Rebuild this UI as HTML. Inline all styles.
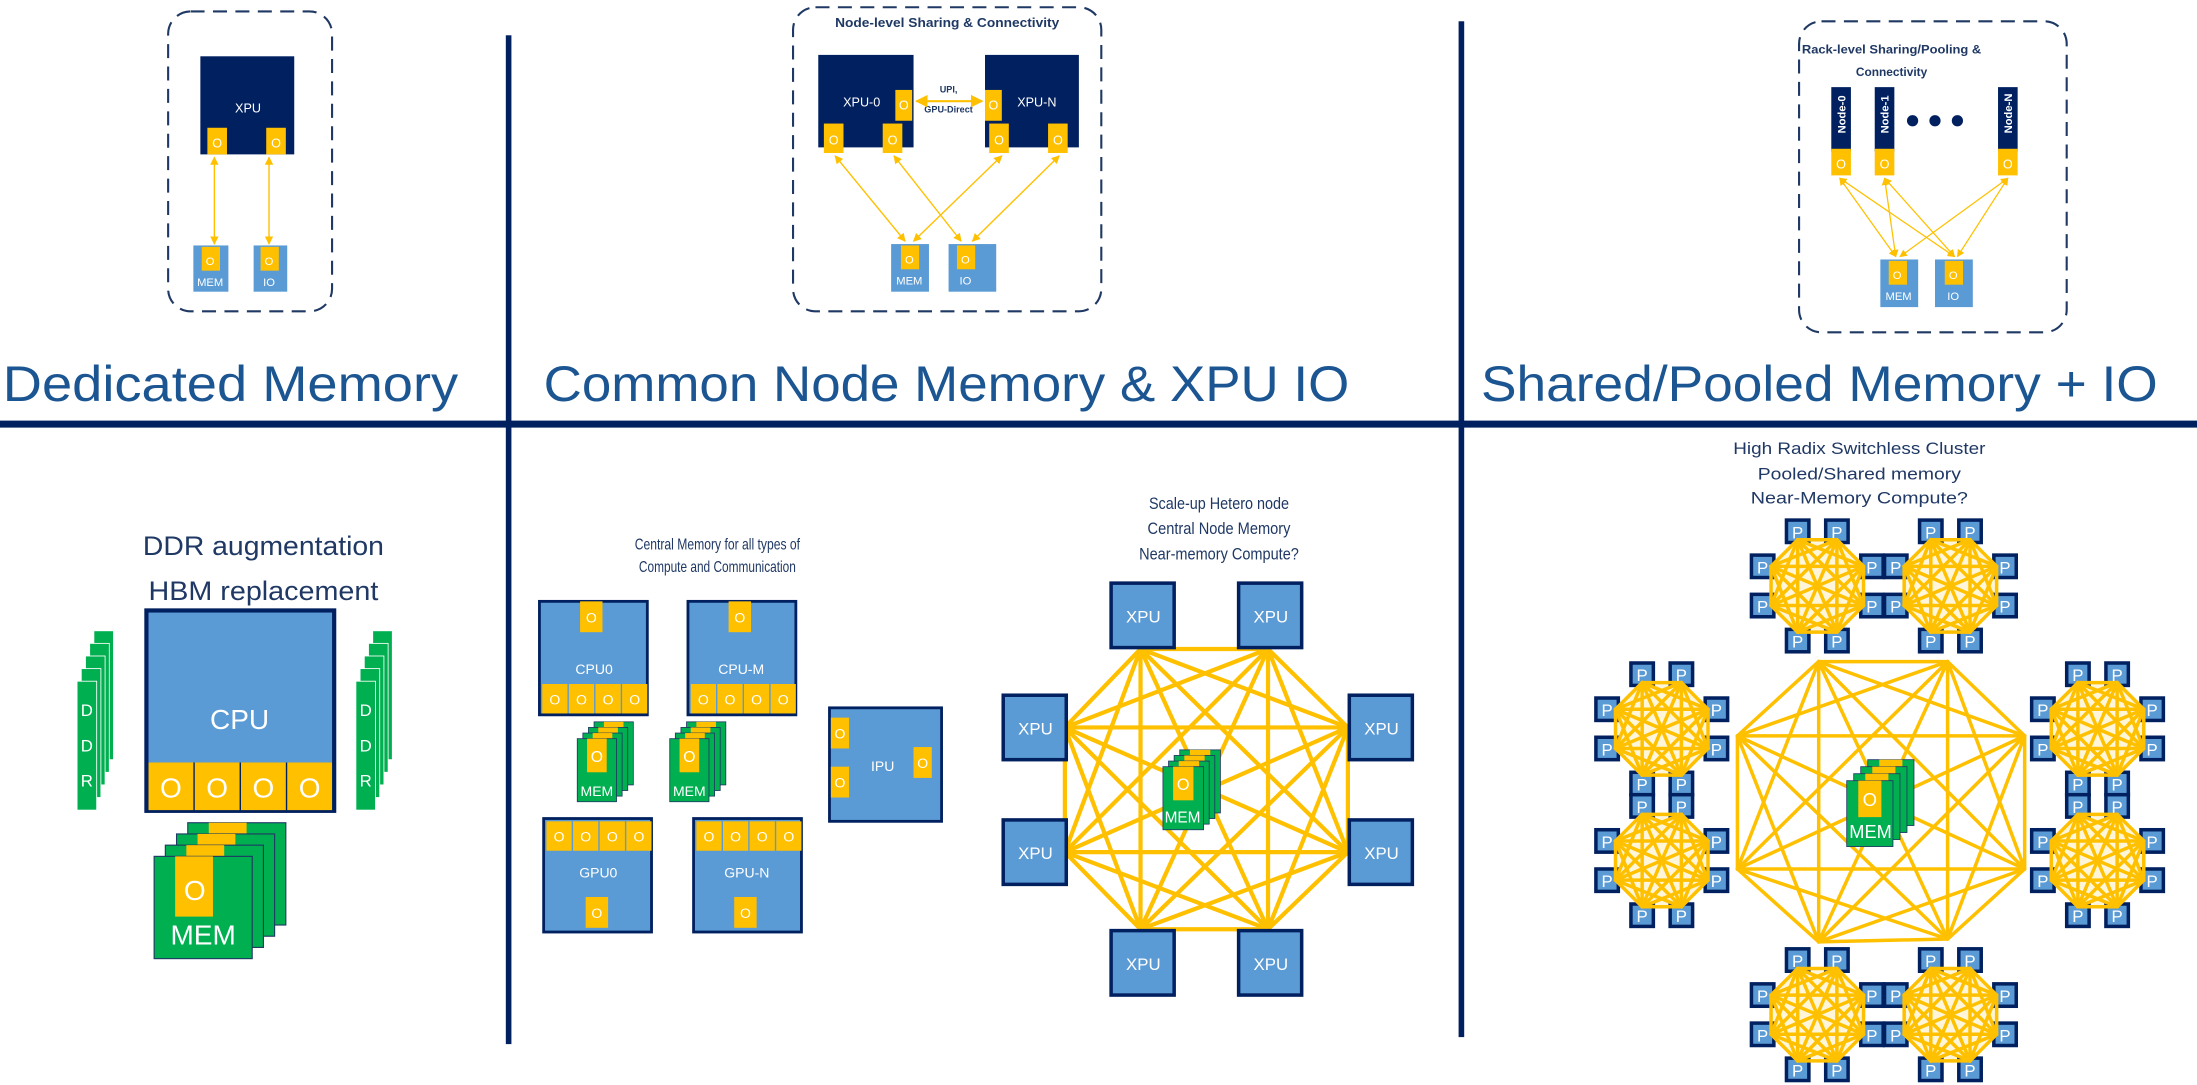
<!DOCTYPE html>
<html><head><meta charset="utf-8"><style>
html,body{margin:0;padding:0;background:#fff;}
svg{display:block;}
text{font-family:"Liberation Sans",sans-serif;}
</style></head><body>
<svg id="s" xmlns="http://www.w3.org/2000/svg" width="2197" height="1085" viewBox="0 0 1568 774">
<defs>
<marker id="ah" viewBox="0 0 10 10" refX="9" refY="5" markerWidth="6" markerHeight="6" orient="auto-start-reverse"><path d="M0,0 L10,5 L0,10 z" fill="#ffc000"/></marker>
</defs>
<rect x="0" y="300" width="1568" height="5" fill="#002060"/>
<rect x="361" y="25" width="4" height="720" fill="#002060"/>
<rect x="1041" y="15" width="4" height="725" fill="#002060"/>

<rect x="120" y="8" width="117" height="214" rx="16" fill="none" stroke="#1f3864" stroke-width="1.5" stroke-dasharray="10,6"/>
<rect x="143" y="40" width="67" height="70" fill="#002060"/>
<text x="177" y="80" font-size="9" fill="#fff" text-anchor="middle">XPU</text>
<rect x="148" y="91" width="14" height="19" fill="#ffc000"/><text x="155" y="105" font-size="9" fill="#fff" text-anchor="middle">O</text>
<rect x="190" y="91" width="14" height="19" fill="#ffc000"/><text x="197" y="105" font-size="9" fill="#fff" text-anchor="middle">O</text>
<rect x="138" y="175" width="25" height="33" fill="#5b9bd5"/><rect x="144" y="176" width="13" height="17" fill="#ffc000"/>
<text x="150" y="189" font-size="8" fill="#fff" text-anchor="middle">O</text><text x="150" y="204" font-size="8" fill="#fff" text-anchor="middle">MEM</text>
<rect x="181" y="175" width="24" height="33" fill="#5b9bd5"/><rect x="186" y="176" width="13" height="17" fill="#ffc000"/>
<text x="192" y="189" font-size="8" fill="#fff" text-anchor="middle">O</text><text x="192" y="204" font-size="8" fill="#fff" text-anchor="middle">IO</text>
<line x1="153" y1="112" x2="153" y2="174" stroke="#ffc000" stroke-width="1" marker-start="url(#ah)" marker-end="url(#ah)"/>
<line x1="192" y1="112" x2="192" y2="174" stroke="#ffc000" stroke-width="1" marker-start="url(#ah)" marker-end="url(#ah)"/>
<text x="2" y="286" font-size="36" fill="#1b5592" textLength="325" lengthAdjust="spacingAndGlyphs">Dedicated Memory</text>

<rect x="566" y="5" width="220" height="217" rx="16" fill="none" stroke="#1f3864" stroke-width="1.5" stroke-dasharray="10,6"/>
<text x="676" y="19" font-size="9" font-weight="bold" fill="#1f3864" text-anchor="middle" textLength="160" lengthAdjust="spacingAndGlyphs">Node-level Sharing &amp; Connectivity</text>
<rect x="584" y="39" width="68" height="66" fill="#002060"/>
<rect x="703" y="39" width="67" height="66" fill="#002060"/>
<text x="615" y="76" font-size="9" fill="#fff" text-anchor="middle">XPU-0</text>
<text x="740" y="76" font-size="9" fill="#fff" text-anchor="middle">XPU-N</text>
<rect x="639" y="64" width="12" height="22" fill="#ffc000"/><text x="645" y="78" font-size="9" fill="#fff" text-anchor="middle">O</text>
<rect x="703" y="64" width="12" height="22" fill="#ffc000"/><text x="709" y="78" font-size="9" fill="#fff" text-anchor="middle">O</text>
<rect x="588" y="88" width="14" height="21" fill="#ffc000"/><text x="595" y="103" font-size="9" fill="#fff" text-anchor="middle">O</text>
<rect x="630" y="88" width="14" height="21" fill="#ffc000"/><text x="637" y="103" font-size="9" fill="#fff" text-anchor="middle">O</text>
<rect x="706" y="88" width="14" height="21" fill="#ffc000"/><text x="713" y="103" font-size="9" fill="#fff" text-anchor="middle">O</text>
<rect x="748" y="88" width="14" height="21" fill="#ffc000"/><text x="755" y="103" font-size="9" fill="#fff" text-anchor="middle">O</text>
<text x="677" y="66" font-size="6.5" font-weight="bold" fill="#1f3864" text-anchor="middle">UPI,</text>
<text x="677" y="80" font-size="6.5" font-weight="bold" fill="#1f3864" text-anchor="middle">GPU-Direct</text>
<line x1="654" y1="72" x2="701" y2="72" stroke="#ffc000" stroke-width="1.5" marker-start="url(#ah)" marker-end="url(#ah)"/>
<rect x="636" y="174" width="27" height="34" fill="#5b9bd5"/><rect x="643" y="175" width="13" height="17" fill="#ffc000"/>
<text x="649" y="188" font-size="8" fill="#fff" text-anchor="middle">O</text><text x="649" y="203" font-size="8" fill="#fff" text-anchor="middle">MEM</text>
<rect x="677" y="174" width="34" height="34" fill="#5b9bd5"/><rect x="683" y="175" width="13" height="17" fill="#ffc000"/>
<text x="689" y="188" font-size="8" fill="#fff" text-anchor="middle">O</text><text x="689" y="203" font-size="8" fill="#fff" text-anchor="middle">IO</text>
<g stroke="#ffc000" stroke-width="1" marker-start="url(#ah)" marker-end="url(#ah)">
<line x1="596" y1="111" x2="646" y2="172"/>
<line x1="638" y1="111" x2="686" y2="172"/>
<line x1="715" y1="111" x2="652" y2="172"/>
<line x1="756" y1="111" x2="694" y2="172"/>
</g>
<text x="388" y="286" font-size="36" fill="#1b5592" textLength="575" lengthAdjust="spacingAndGlyphs">Common Node Memory &amp; XPU IO</text>

<rect x="1284" y="15" width="191" height="222" rx="16" fill="none" stroke="#1f3864" stroke-width="1.5" stroke-dasharray="10,6"/>
<text x="1350" y="38" font-size="8.5" font-weight="bold" fill="#1f3864" text-anchor="middle" textLength="128" lengthAdjust="spacingAndGlyphs">Rack-level Sharing/Pooling &amp;</text>
<text x="1350" y="54" font-size="8.5" font-weight="bold" fill="#1f3864" text-anchor="middle">Connectivity</text>
<g>
<rect x="1307" y="62" width="14" height="46" fill="#002060"/><rect x="1307" y="106" width="14" height="19" fill="#ffc000"/>
<rect x="1338" y="62" width="14" height="46" fill="#002060"/><rect x="1338" y="106" width="14" height="19" fill="#ffc000"/>
<rect x="1426" y="62" width="14" height="46" fill="#002060"/><rect x="1426" y="106" width="14" height="19" fill="#ffc000"/>
<text transform="translate(1317,95) rotate(-90)" font-size="8" font-weight="bold" fill="#fff">Node-0</text>
<text transform="translate(1348,95) rotate(-90)" font-size="8" font-weight="bold" fill="#fff">Node-1</text>
<text transform="translate(1436,95) rotate(-90)" font-size="8" font-weight="bold" fill="#fff">Node-N</text>
<text x="1314" y="120" font-size="9" fill="#fff" text-anchor="middle">O</text>
<text x="1345" y="120" font-size="9" fill="#fff" text-anchor="middle">O</text>
<text x="1433" y="120" font-size="9" fill="#fff" text-anchor="middle">O</text>
<circle cx="1365" cy="86" r="4" fill="#002060"/><circle cx="1381" cy="86" r="4" fill="#002060"/><circle cx="1397" cy="86" r="4" fill="#002060"/>
</g>
<rect x="1342" y="185" width="27" height="34" fill="#5b9bd5"/><rect x="1348" y="186" width="13" height="17" fill="#ffc000"/>
<text x="1354" y="199" font-size="8" fill="#fff" text-anchor="middle">O</text><text x="1355" y="214" font-size="8" fill="#fff" text-anchor="middle">MEM</text>
<rect x="1381" y="185" width="27" height="34" fill="#5b9bd5"/><rect x="1388" y="186" width="13" height="17" fill="#ffc000"/>
<text x="1394" y="199" font-size="8" fill="#fff" text-anchor="middle">O</text><text x="1394" y="214" font-size="8" fill="#fff" text-anchor="middle">IO</text>
<g stroke="#ffc000" stroke-width="0.9" marker-start="url(#ah)" marker-end="url(#ah)">
<line x1="1313" y1="127" x2="1353" y2="183"/><line x1="1313" y1="127" x2="1395" y2="183"/>
<line x1="1345" y1="127" x2="1353" y2="183"/><line x1="1345" y1="127" x2="1395" y2="183"/>
<line x1="1433" y1="127" x2="1356" y2="183"/><line x1="1433" y1="127" x2="1397" y2="183"/>
</g>
<text x="1057" y="286" font-size="36" fill="#1b5592" textLength="483" lengthAdjust="spacingAndGlyphs">Shared/Pooled Memory + IO</text>

<text x="188" y="396" font-size="19" fill="#1f3864" text-anchor="middle" textLength="172" lengthAdjust="spacingAndGlyphs">DDR augmentation</text>
<text x="188" y="428" font-size="19" fill="#1f3864" text-anchor="middle" textLength="164" lengthAdjust="spacingAndGlyphs">HBM replacement</text>
<g id="ddrL"></g>
<rect x="103" y="434" width="137" height="146" fill="#002060"/>
<rect x="106" y="437" width="131" height="107" fill="#5b9bd5"/>
<text x="171" y="520" font-size="20" fill="#fff" text-anchor="middle">CPU</text>
<rect x="106" y="544" width="32" height="34" fill="#ffc000"/><rect x="139" y="544" width="32" height="34" fill="#ffc000"/>
<rect x="172" y="544" width="32" height="34" fill="#ffc000"/><rect x="205" y="544" width="32" height="34" fill="#ffc000"/>
<text x="122" y="569" font-size="20" fill="#fff" text-anchor="middle">O</text><text x="155" y="569" font-size="20" fill="#fff" text-anchor="middle">O</text>
<text x="188" y="569" font-size="20" fill="#fff" text-anchor="middle">O</text><text x="221" y="569" font-size="20" fill="#fff" text-anchor="middle">O</text>
<text x="62" y="511" font-size="12" fill="#fff" text-anchor="middle">D</text><text x="62" y="536" font-size="12" fill="#fff" text-anchor="middle">D</text><text x="62" y="561" font-size="12" fill="#fff" text-anchor="middle">R</text>
<text x="261" y="511" font-size="12" fill="#fff" text-anchor="middle">D</text><text x="261" y="536" font-size="12" fill="#fff" text-anchor="middle">D</text><text x="261" y="561" font-size="12" fill="#fff" text-anchor="middle">R</text>
<g id="bigmem"></g>
<text x="145" y="674" font-size="20" fill="#fff" text-anchor="middle">MEM</text>
<text x="139" y="642" font-size="20" fill="#fff" text-anchor="middle">O</text>

<text x="512" y="392" font-size="11" fill="#1f3864" text-anchor="middle" textLength="118" lengthAdjust="spacingAndGlyphs">Central Memory for all types of</text>
<text x="512" y="408" font-size="11" fill="#1f3864" text-anchor="middle" textLength="112" lengthAdjust="spacingAndGlyphs">Compute and Communication</text>
<g id="mid"></g>
<text x="424" y="481" font-size="10" fill="#fff" text-anchor="middle">CPU0</text>
<text x="529" y="481" font-size="10" fill="#fff" text-anchor="middle">CPU-M</text>
<text x="427" y="626" font-size="10" fill="#fff" text-anchor="middle">GPU0</text>
<text x="533" y="626" font-size="10" fill="#fff" text-anchor="middle">GPU-N</text>
<text x="630" y="550" font-size="10" fill="#fff" text-anchor="middle">IPU</text>
<text x="426" y="568" font-size="10" fill="#fff" text-anchor="middle">MEM</text>
<text x="492" y="568" font-size="10" fill="#fff" text-anchor="middle">MEM</text>

<text x="870" y="363" font-size="12" fill="#1f3864" text-anchor="middle" textLength="100" lengthAdjust="spacingAndGlyphs">Scale-up Hetero node</text>
<text x="870" y="381" font-size="12" fill="#1f3864" text-anchor="middle" textLength="102" lengthAdjust="spacingAndGlyphs">Central Node Memory</text>
<text x="870" y="399" font-size="12" fill="#1f3864" text-anchor="middle" textLength="114" lengthAdjust="spacingAndGlyphs">Near-memory Compute?</text>
<g id="hetero"></g>

<text x="1327" y="324" font-size="12" fill="#1f3864" text-anchor="middle" textLength="180" lengthAdjust="spacingAndGlyphs">High Radix Switchless Cluster</text>
<text x="1327" y="342" font-size="12" fill="#1f3864" text-anchor="middle" textLength="145" lengthAdjust="spacingAndGlyphs">Pooled/Shared memory</text>
<text x="1327" y="359" font-size="12" fill="#1f3864" text-anchor="middle" textLength="155" lengthAdjust="spacingAndGlyphs">Near-Memory Compute?</text>
<g id="cluster"></g>
</svg>
<script>
var NS="http://www.w3.org/2000/svg";
function el(parent,tag,attrs,txt){var e=document.createElementNS(NS,tag);for(var k in attrs)e.setAttribute(k,attrs[k]);if(txt)e.textContent=txt;document.getElementById(parent).appendChild(e);return e;}
function rect(p,x,y,w,h,f,s,sw){var a={x:x,y:y,width:w,height:h,fill:f};if(s){a.stroke=s;a["stroke-width"]=sw||1;}return el(p,"rect",a);}
function txt(p,x,y,sz,t){return el(p,"text",{x:x,y:y,"font-size":sz,fill:"#fff","text-anchor":"middle"},t);}
function kgraph(p,pts,sw){for(var i=0;i<pts.length;i++)for(var j=i+1;j<pts.length;j++)el(p,"line",{x1:pts[i][0],y1:pts[i][1],x2:pts[j][0],y2:pts[j][1],stroke:"#ffc000","stroke-width":sw,"stroke-linecap":"round"});}
[55,254].forEach(function(x0){for(var i=4;i>=0;i--){rect("ddrL",x0+i*3,486-i*9,14,92,"#00b050","#fff",0.6);}});
for(var i=3;i>=0;i--){rect("bigmem",110+i*8,611-i*8,70,73,"#00b050","#1f3864",0.8);rect("bigmem",125+i*8,611-i*8,27,(i==0?43:8),"#ffc000");}
function box(x,y,w,h){rect("mid",x,y,w,h,"#5b9bd5","#002060",2);}
function port(x,y,w,h){rect("mid",x,y,w,h,"#ffc000");txt("mid",x+w/2,y+h/2+4,10,"O");}
box(385,429,77,81);port(414,429,16,22);for(var i=0;i<4;i++)port(387+i*19,488,18,21);
box(491,429,77,81);port(520,429,16,22);for(var i=0;i<4;i++)port(493+i*19,488,18,21);
box(388,584,77,81);port(418,640,16,22);for(var i=0;i<4;i++)port(390+i*19,586,18,21);
box(495,584,77,81);port(524,640,16,22);for(var i=0;i<4;i++)port(497+i*19,586,18,21);
box(592,505,80,81);port(593,512,13,22);port(593,547,13,22);port(652,533,13,22);
function memstack(p,x,y,w,h,ph,n,d){for(var i=n;i>=0;i--){rect(p,x+i*d,y-i*d,w,h,"#00b050","#1f3864",0.6);rect(p,x+i*d+w*0.25,y-i*d,w*0.5,(i==0?ph:d),"#ffc000");}txt(p,x+w/2,y+ph*0.7,w*0.4,"O");}
memstack("mid",412,527,28,45,24,3,4);memstack("mid",478,527,28,45,24,3,4);
var H=[[814,463],[905,463],[962,519],[962,608],[905,663],[814,663],[760,608],[760,519]];
kgraph("hetero",H,3);
[[792,415],[883,415],[715,495],[962,495],[715,584],[962,584],[792,663],[883,663]].forEach(function(b){rect("hetero",b[0]+1,b[1]+1,45,46,"#5b9bd5","#002060",2.5);txt("hetero",b[0]+24,b[1]+29,12,"XPU");});
memstack("hetero",830,547,29,45,24,3,4);txt("hetero",844,587,11,"MEM");
var B=[[1298,472],[1390,472],[1445,525],[1445,620],[1390,670],[1298,672],[1240,620],[1240,525]];
kgraph("cluster",B,2.5);
function oct(cx,cy,r,s){return [[cx-s,cy-r],[cx+s,cy-r],[cx+r,cy-s],[cx+r,cy+s],[cx+s,cy+r],[cx-s,cy+r],[cx-r,cy+s],[cx-r,cy-s]];}
function pbox(x,y){rect("cluster",x,y,16,16,"#5b9bd5","#002060",2.5);txt("cluster",x+8,y+13,12,"P");}
[[1297,418],[1392,418],[1186,520],[1186,614],[1497,520],[1497,614],[1297,724],[1392,724]].forEach(function(c){
 var cx=c[0],cy=c[1];
 [[-22,-47],[6,-47],[-22,31],[6,31],[-47,-22],[-47,6],[31,-22],[31,6]].forEach(function(o){pbox(cx+o[0],cy+o[1]);});
 el("cluster","polygon",{points:oct(cx,cy,33,14).map(function(p){return p.join(",")}).join(" "),fill:"#ffc000","fill-opacity":"0.15"});
 kgraph("cluster",oct(cx,cy,33,14),2.5);
});
memstack("cluster",1318,557,33,47,26,3,5);txt("cluster",1335,598,13,"MEM");
</script>
</body></html>
